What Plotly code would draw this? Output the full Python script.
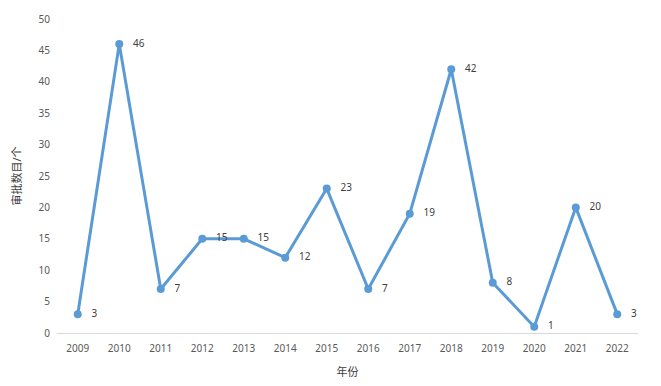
import plotly.graph_objects as go

years = ["2009", "2010", "2011", "2012", "2013", "2014", "2015",
         "2016", "2017", "2018", "2019", "2020", "2021", "2022"]
counts = [3, 46, 7, 15, 15, 12, 23, 7, 19, 42, 8, 1, 20, 3]
y_ticks = [0, 5, 10, 15, 20, 25, 30, 35, 40, 45, 50]

color = "#5b9bd5"
font_family = "Noto Sans, Noto Sans CJK SC, sans-serif"

fig = go.Figure()
fig.add_trace(go.Scatter(
    x=years, y=counts,
    mode="lines+markers+text",
    line=dict(color=color, width=3),
    marker=dict(color=color, size=8),
    text=["   " + str(v) for v in counts],
    textposition="middle right",
    textfont=dict(size=10, color="#404040", family=font_family),
    cliponaxis=False,
    showlegend=False,
))

fig.update_layout(
    width=653, height=378,
    margin=dict(l=49, r=23, t=11, b=53, autoexpand=False),
    paper_bgcolor="white", plot_bgcolor="white",
    font=dict(family=font_family, size=10, color="#595959"),
    xaxis=dict(
        type="category", range=[-0.5, 13.5], automargin=False,
        showgrid=False, zeroline=False,
        showline=True, linecolor="#d9d9d9", linewidth=1,
        ticks="", ticklabelstandoff=6,
        tickfont=dict(size=10, color="#595959"),
        title=dict(text="年份", font=dict(size=11, color="#404040"), standoff=14),
    ),
    yaxis=dict(
        range=[0, 50], tickvals=y_ticks, automargin=False,
        showgrid=False, zeroline=False, showline=False,
        ticks="", ticklabelstandoff=6,
        tickfont=dict(size=10, color="#595959"),
        title=dict(text="审批数目/个", font=dict(size=11, color="#404040"), standoff=14),
    ),
)

fig.write_html("out.html")
